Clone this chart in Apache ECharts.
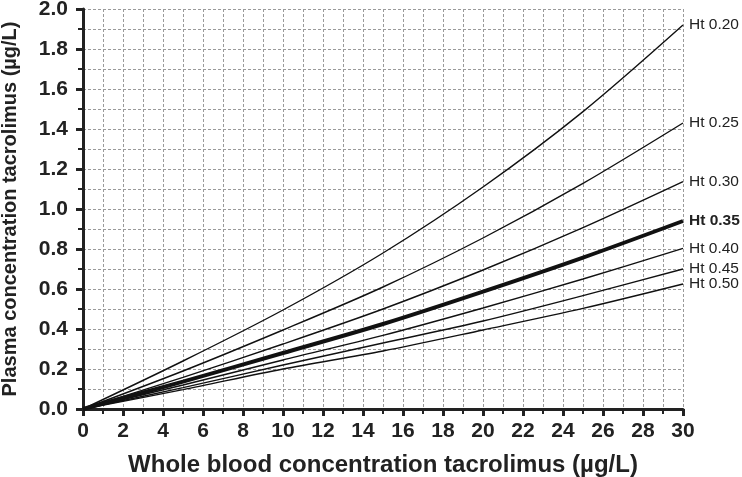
<!DOCTYPE html>
<html>
<head>
<meta charset="utf-8">
<script src="https://cdn.jsdelivr.net/npm/echarts@6/dist/echarts.min.js"></script>
<style>
  html, body { margin: 0; padding: 0; background: #fff; }
  #chart { width: 742px; height: 477px; }
</style>
</head>
<body>
<div id="chart"></div>
<script>
// whole blood concentration (µg/L)
const wholeBlood = [0, 5, 10, 15, 20, 25, 30]
const hematocrits = ['Ht 0.20', 'Ht 0.25', 'Ht 0.30', 'Ht 0.35', 'Ht 0.40', 'Ht 0.45', 'Ht 0.50']
// plasma concentration per hematocrit
const ht020 = [0, 0.24, 0.495, 0.78, 1.11, 1.487, 1.92]
const ht025 = [0, 0.19, 0.395, 0.61, 0.855, 1.128, 1.43]
const ht030 = [0, 0.158, 0.325, 0.5, 0.695, 0.907, 1.137]
const ht035 = [0, 0.137, 0.28, 0.425, 0.587, 0.757, 0.94]
const ht040 = [0, 0.12, 0.245, 0.368, 0.505, 0.65, 0.803]
const ht045 = [0, 0.107, 0.22, 0.33, 0.44, 0.567, 0.7]
const ht050 = [0, 0.097, 0.2, 0.29, 0.395, 0.503, 0.625]
const plasma = [ht020, ht025, ht030, ht035, ht040, ht045, ht050]

const chart = echarts.init(document.getElementById('chart'))
const font = 'Liberation Sans, Arial, sans-serif'
const gridLine = { show: true, lineStyle: { color: '#9a9a9a', type: [3, 2], width: 1 } }

const option = {
  backgroundColor: '#fff',
  animation: false,
  grid: { left: 83, top: 9, right: 59, bottom: 68, outerBoundsMode: 'none', containLabel: false },
  xAxis: {
    type: 'value',
    min: 0,
    max: 30,
    interval: 2,
    name: 'Whole blood concentration tacrolimus (µg/L)',
    nameLocation: 'middle',
    nameGap: 44,
    nameTextStyle: { color: '#222', fontSize: 24, fontWeight: 'bold', fontFamily: font },
    axisLine: { lineStyle: { color: '#222', width: 3 } },
    axisTick: { length: 7, lineStyle: { color: '#222', width: 3 } },
    minorTick: { show: true, splitNumber: 2, length: 5, lineStyle: { color: '#222', width: 2 } },
    axisLabel: { color: '#222', fontSize: 21, fontWeight: 'bold', fontFamily: font, margin: 12 },
    splitLine: gridLine,
    minorSplitLine: gridLine,
  },
  yAxis: {
    type: 'value',
    min: 0,
    max: 2,
    interval: 0.2,
    name: 'Plasma concentration tacrolimus (µg/L)',
    nameLocation: 'middle',
    nameGap: 63,
    nameTextStyle: { color: '#222', fontSize: 20, fontWeight: 'bold', fontFamily: font },
    axisLine: { show: true, lineStyle: { color: '#222', width: 3 } },
    axisTick: { show: true, length: 7, lineStyle: { color: '#222', width: 3 } },
    minorTick: { show: true, splitNumber: 2, length: 5, lineStyle: { color: '#222', width: 2 } },
    axisLabel: {
      color: '#222', fontSize: 21, fontWeight: 'bold', fontFamily: font, margin: 15,
      formatter: v => v.toFixed(1),
    },
    splitLine: gridLine,
    minorSplitLine: gridLine,
  },
  series: hematocrits.map((name, i) => {
    const bold = name === 'Ht 0.35'
    return {
      name,
      type: 'line',
      smooth: 0.3,
      symbol: 'none',
      data: wholeBlood.map((x, j) => [x, plasma[i][j]]),
      lineStyle: { color: '#111', width: bold ? 4 : 1.4 },
      endLabel: {
        show: true,
        formatter: name,
        color: '#222',
        fontSize: 15.5,
        fontFamily: font,
        fontWeight: bold ? 'bold' : 'normal',
        distance: 6,
      },
      z: bold ? 3 : 2,
    }
  }),
}
chart.setOption(option)
</script>
</body>
</html>
